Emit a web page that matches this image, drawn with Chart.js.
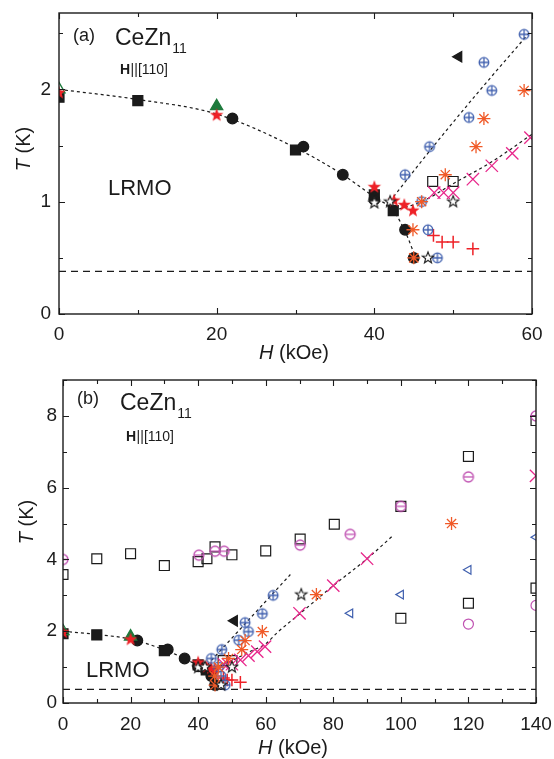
<!DOCTYPE html>
<html>
<head>
<meta charset="utf-8">
<script src="https://cdn.jsdelivr.net/npm/chart.js@4/dist/chart.umd.min.js"></script>
<style>
  html, body { margin: 0; padding: 0; background: #fff; }
  #wrap { position: relative; width: 554px; height: 759px; }
  .panel { position: absolute; left: 0; }
</style>
</head>
<body>
<div id="wrap">
  <div class="panel" style="top:0"><canvas id="chartA" width="554" height="370"></canvas></div>
  <div class="panel" style="top:370px"><canvas id="chartB" width="554" height="389"></canvas></div>
</div>
<script>
// ---- CeZn11, H || [110]: transition temperatures T (K) versus field H (kOe) ----

// filled black squares
const sqFillH = [0, 10, 30, 40, 42.4];
const sqFillT = [1.93, 1.90, 1.46, 1.06, 0.92];
// filled black circles
const cirFillH = [22, 31, 36, 40, 43.9, 45];
const cirFillT = [1.74, 1.49, 1.24, 1.02, 0.75, 0.5];
// green triangles (filled / open)
const triFillH = [20];
const triFillT = [1.85];
const triOpenH = [0];
const triOpenT = [2.0];
// red filled stars
const starFillH = [0, 20, 40, 42.5, 43.8, 44.9];
const starFillT = [1.97, 1.77, 1.13, 1.01, 0.97, 0.92];
// open stars
const starOpenH = [40, 42, 50, 46.8];
const starOpenT = [0.99, 1.0, 1.0, 0.5];
// blue circled plus
const oplusH = [43.9, 47, 52, 54.9, 53.9, 59, 46, 46.8, 48];
const oplusT = [1.24, 1.49, 1.75, 1.99, 2.24, 2.49, 1.0, 0.75, 0.5];
// orange asterisks
const asterH = [45, 44.9, 46, 49, 52.9, 53.9, 59];
const asterT = [0.5, 0.75, 1.0, 1.24, 1.49, 1.74, 1.99];
// pink crosses
const crossH = [47.6, 48.8, 50, 52.5, 54.9, 57.5, 59.8];
const crossT = [1.08, 1.08, 1.08, 1.2, 1.32, 1.43, 1.57];
// open squares near the low-field boundary
const sqOpenH = [47.4, 50];
const sqOpenT = [1.18, 1.18];
// red plus signs
const plusH = [47.5, 48.6, 50, 52.5];
const plusT = [0.70, 0.64, 0.64, 0.58];
// black left-pointing triangle
const triLeftH = [50.7];
const triLeftT = [2.29];

// high-field points (wide field range)
const sqOpenHiH = [0, 10, 20, 30, 40, 42.6, 45, 50, 60, 70.2, 80.3, 100, 120, 140, 100, 120, 140];
const sqOpenHiT = [3.58, 4.02, 4.16, 3.83, 3.94, 4.02, 4.35, 4.13, 4.24, 4.57, 4.98, 5.48, 6.87, 7.87, 2.36, 2.78, 3.2];
const ominusH = [0, 40.2, 45, 47.7, 70.2, 85, 100, 120, 140];
const ominusT = [4.0, 4.12, 4.23, 4.23, 4.4, 4.7, 5.48, 6.30, 8.0];
const circOpenH = [120, 140];
const circOpenT = [2.2, 2.72];
const triLeftOpenH = [85, 100, 120, 140];
const triLeftOpenT = [2.5, 3.02, 3.71, 4.62];
const oplusHiH = [62.2];
const oplusHiT = [3.0];
const asterHiH = [75, 115];
const asterHiT = [3.02, 5.0];
const crossHiH = [70, 80, 90, 140];
const crossHiT = [2.5, 3.27, 4.02, 6.33];
const starOpenHiH = [70.5];
const starOpenHiT = [3.02];

// dotted guide lines
const guideAH = [0, 10, 20, 30, 36, 40, 42.4, 44, 45.4];
const guideAT = [2.0, 1.91, 1.78, 1.48, 1.24, 1.04, 0.92, 0.72, 0.47];
const guideBaH = [41.5, 47, 53, 59.6];
const guideBaT = [0.96, 1.45, 1.96, 2.5];
const guideBbH = [41.5, 67.3];
const guideBbT = [0.94, 3.58];
const guideCaH = [42.4, 46, 50, 55, 60];
const guideCaT = [0.92, 1.0, 1.16, 1.36, 1.6];
const guideCbH = [44, 50, 55, 60, 63.4, 70, 80, 90, 97.5];
const guideCbT = [0.95, 1.18, 1.42, 1.65, 1.96, 2.48, 3.27, 4.02, 4.65];
// lowest measured temperature
const floorT = [0.38, 0.38];
const floorHa = [0, 60];
const floorHb = [0, 140];

// axis ranges
const rangeA = { hMax: 60, tMax: 2.68, hStep: 10, hLabel: 20, tStep: 0.5, tLabel: 1 };
const rangeB = { hMax: 140, tMax: 9, hStep: 10, hLabel: 20, tStep: 1, tLabel: 2 };

const FONT = "'Liberation Sans', Arial, sans-serif";
const C = {
  ink: '#1b1b1b',
  blue: '#3f5fae',
  orange: '#f05a28',
  pink: '#e8278b',
  red: '#ee2127',
  green: '#1d7a3c',
  orchid: '#c052b2'
};

// ---- marker images ----
function canvasMarker(size, paint) {
  const c = document.createElement('canvas');
  c.width = size; c.height = size;
  const g = c.getContext('2d');
  g.translate(size / 2, size / 2);
  paint(g);
  return c;
}
function starPath(g, R, r) {
  g.beginPath();
  for (let i = 0; i < 10; i++) {
    const rad = i % 2 ? r : R;
    const a = -Math.PI / 2 + i * Math.PI / 5;
    const px = Math.cos(a) * rad, py = Math.sin(a) * rad;
    if (i) g.lineTo(px, py); else g.moveTo(px, py);
  }
  g.closePath();
}
const starFillImg = canvasMarker(18, g => { starPath(g, 7, 2.9); g.fillStyle = C.red; g.fill(); });
const starOpenImg = canvasMarker(16, g => {
  starPath(g, 6, 2.5); g.fillStyle = '#fff'; g.fill();
  g.strokeStyle = C.ink; g.lineWidth = 1.1; g.stroke();
});
const oplusImg = canvasMarker(16, g => {
  const r = 4.8;
  g.strokeStyle = C.blue; g.lineWidth = 1.3;
  g.beginPath(); g.arc(0, 0, r, 0, Math.PI * 2); g.stroke();
  g.beginPath(); g.moveTo(-r, 0); g.lineTo(r, 0); g.moveTo(0, -r); g.lineTo(0, r); g.stroke();
});
const ominusImg = canvasMarker(16, g => {
  const r = 5;
  g.strokeStyle = C.orchid; g.lineWidth = 1.3;
  g.beginPath(); g.arc(0, 0, r, 0, Math.PI * 2); g.stroke();
  g.beginPath(); g.moveTo(-r, 0); g.lineTo(r, 0); g.stroke();
});

function pts(h, t) { return h.map((v, i) => ({ x: v, y: t[i] })); }
function marks(h, t, style) {
  return Object.assign({ data: pts(h, t), showLine: false, clip: 0, pointBorderWidth: 1.3 }, style);
}
function guide(h, t, dash, mono) {
  return {
    data: pts(h, t), showLine: true, pointRadius: 0, borderColor: C.ink, borderWidth: 1.2,
    borderDash: dash, cubicInterpolationMode: mono ? 'monotone' : 'default', tension: 0, clip: 0
  };
}

const S = {
  starOpen: { pointStyle: starOpenImg, pointRadius: 5 },
  oplus: { pointStyle: oplusImg, pointRadius: 5 },
  ominus: { pointStyle: ominusImg, pointRadius: 5 },
  aster: { pointStyle: 'star', pointRadius: 6.5, borderColor: C.orange },
  cross: { pointStyle: 'crossRot', pointRadius: 8.7, borderColor: C.pink },
  plus: { pointStyle: 'cross', pointRadius: 6.3, borderColor: C.red, pointBorderWidth: 1.5 },
  sqOpen: { pointStyle: 'rect', pointRadius: 7, borderColor: C.ink, backgroundColor: 'rgba(0,0,0,0)', pointBorderWidth: 1.2 },
  starFill: { pointStyle: starFillImg, pointRadius: 5 },
  triFill: { pointStyle: 'triangle', pointRadius: 7, borderColor: C.green, backgroundColor: C.green },
  triOpen: { pointStyle: 'triangle', pointRadius: 7, borderColor: C.green, backgroundColor: 'rgba(0,0,0,0)' },
  triLeft: { pointStyle: 'triangle', pointRotation: -90, pointRadius: 6, borderColor: C.ink, backgroundColor: C.ink },
  triLeftOpen: { pointStyle: 'triangle', pointRotation: -90, pointRadius: 5, borderColor: C.blue, backgroundColor: 'rgba(0,0,0,0)', pointBorderWidth: 1.2 },
  cirFill: { pointStyle: 'circle', pointRadius: 5.3, borderColor: C.ink, backgroundColor: C.ink },
  cirOpen: { pointStyle: 'circle', pointRadius: 5, borderColor: C.orchid, backgroundColor: 'rgba(0,0,0,0)', pointBorderWidth: 1.2 },
  sqFill: { pointStyle: 'rect', pointRadius: 7, borderColor: C.ink, backgroundColor: C.ink }
};

// ---- frame with inward ticks on all four sides ----
const framePlugin = {
  id: 'frame',
  afterDatasetsDraw(chart, args, o) {
    const { ctx, chartArea: a, scales: { x, y } } = chart;
    ctx.save();
    ctx.strokeStyle = C.ink;
    ctx.lineWidth = 1.4;
    ctx.strokeRect(a.left, a.top, a.right - a.left, a.bottom - a.top);
    ctx.lineWidth = 1.1;
    ctx.beginPath();
    x.ticks.forEach(t => {
      const px = Math.round(x.getPixelForValue(t.value)) + 0.5;
      const len = Math.abs(t.value % o.hLabel) < 1e-6 ? 6 : 4;
      ctx.moveTo(px, a.bottom); ctx.lineTo(px, a.bottom - len);
      ctx.moveTo(px, a.top); ctx.lineTo(px, a.top + len);
    });
    y.ticks.forEach(t => {
      const py = Math.round(y.getPixelForValue(t.value)) + 0.5;
      const len = Math.abs(t.value % o.tLabel) < 1e-6 ? 6 : 4;
      ctx.moveTo(a.left, py); ctx.lineTo(a.left + len, py);
      ctx.moveTo(a.right, py); ctx.lineTo(a.right - len, py);
    });
    ctx.stroke();
    ctx.restore();
  }
};

function mixedText(ctx, parts, size, cx, cy, rot) {
  ctx.save();
  ctx.translate(cx, cy);
  ctx.rotate(rot);
  ctx.textBaseline = 'middle';
  ctx.textAlign = 'left';
  let total = 0;
  const widths = parts.map(([s, st]) => { ctx.font = `${st}${size}px ${FONT}`; const w = ctx.measureText(s).width; total += w; return w; });
  let px = -total / 2;
  parts.forEach(([s, st], i) => { ctx.font = `${st}${size}px ${FONT}`; ctx.fillText(s, px, 0); px += widths[i]; });
  ctx.restore();
}

// ---- panel labels and axis titles ----
const notesPlugin = {
  id: 'notes',
  afterDraw(chart, args, o) {
    const ctx = chart.ctx;
    ctx.save();
    ctx.fillStyle = C.ink;
    ctx.textAlign = 'left';
    ctx.textBaseline = 'alphabetic';
    ctx.font = `18px ${FONT}`;
    ctx.fillText(o.tag, o.tagX, o.tagY);
    ctx.font = `23px ${FONT}`;
    ctx.fillText('CeZn', o.nameX, o.nameY);
    const wn = ctx.measureText('CeZn').width;
    ctx.font = `14px ${FONT}`;
    ctx.fillText('11', o.nameX + wn + 1, o.nameY + 7.5);
    ctx.font = `bold 14px ${FONT}`;
    ctx.fillText('H', o.dirX, o.dirY);
    const wh = ctx.measureText('H').width;
    ctx.font = `14px ${FONT}`;
    ctx.fillText('||[110]', o.dirX + wh + 0.5, o.dirY);
    ctx.font = `22px ${FONT}`;
    ctx.fillText('LRMO', o.phaseX, o.phaseY);
    mixedText(ctx, [['T', 'italic '], [' (K)', '']], 20, o.yTitleX, o.yTitleY, -Math.PI / 2);
    mixedText(ctx, [['H', 'italic '], [' (kOe)', '']], 20, o.xTitleX, o.xTitleY, 0);
    ctx.restore();
  }
};

function makeChart(id, datasets, range, pad, axisW, axisH, notes) {
  return new Chart(document.getElementById(id), {
    type: 'scatter',
    data: { datasets },
    plugins: [framePlugin, notesPlugin],
    options: {
      responsive: false,
      animation: false,
      events: [],
      layout: { padding: pad },
      plugins: {
        legend: { display: false },
        tooltip: { enabled: false },
        frame: range,
        notes
      },
      scales: {
        x: {
          type: 'linear', min: 0, max: range.hMax,
          border: { display: false },
          grid: { display: false, drawTicks: false },
          afterFit: s => { s.height = axisH; s.paddingLeft = 0; s.paddingRight = 0; },
          ticks: {
            stepSize: range.hStep, includeBounds: false, autoSkip: false, maxRotation: 0,
            padding: notes.xPad, color: C.ink, font: { family: FONT, size: 19 },
            callback: v => (Math.abs(v % range.hLabel) < 1e-6 ? String(v) : '')
          }
        },
        y: {
          type: 'linear', min: 0, max: range.tMax,
          border: { display: false },
          grid: { display: false, drawTicks: false },
          afterFit: s => { s.width = axisW; s.paddingTop = 0; s.paddingBottom = 0; },
          ticks: {
            stepSize: range.tStep, includeBounds: false, autoSkip: false,
            padding: notes.yPad, color: C.ink, font: { family: FONT, size: 19 },
            callback: v => (Math.abs(v % range.tLabel) < 1e-6 ? String(Math.round(v)) : '')
          }
        }
      }
    }
  });
}

// ---- panel (a) ----
const dsA = [
  marks(starOpenH, starOpenT, S.starOpen),
  marks(asterH, asterT, S.aster),
  marks(oplusH, oplusT, S.oplus),
  marks(crossH, crossT, S.cross),
  marks(plusH, plusT, S.plus),
  marks(sqOpenH, sqOpenT, S.sqOpen),
  marks(starFillH, starFillT, S.starFill),
  marks(triFillH, triFillT, S.triFill),
  marks(triOpenH, triOpenT, S.triOpen),
  marks(triLeftH, triLeftT, S.triLeft),
  marks(cirFillH, cirFillT, S.cirFill),
  marks(sqFillH, sqFillT, S.sqFill),
  guide(guideAH, guideAT, [3, 3], true),
  guide(guideBaH, guideBaT, [3, 3], true),
  guide(guideCaH, guideCaT, [3, 3], true),
  guide(floorHa, floorT, [7, 5], false)
];
makeChart('chartA', dsA, rangeA, { left: 0, top: 13, right: 22, bottom: 0 }, 59, 56, {
  tag: '(a)', tagX: 73, tagY: 41,
  nameX: 115, nameY: 45,
  dirX: 120, dirY: 74,
  phaseX: 108, phaseY: 195,
  yTitleX: 24, yTitleY: 149,
  xTitleX: 294, xTitleY: 353,
  yPad: 8, xPad: 9
});

// ---- panel (b) ----
const dsB = [
  marks(starOpenH.concat(starOpenHiH), starOpenT.concat(starOpenHiT), S.starOpen),
  marks(asterH.concat(asterHiH), asterT.concat(asterHiT), S.aster),
  marks(oplusH.concat(oplusHiH), oplusT.concat(oplusHiT), S.oplus),
  marks(crossH.concat(crossHiH), crossT.concat(crossHiT), S.cross),
  marks(plusH, plusT, S.plus),
  marks(ominusH, ominusT, S.ominus),
  marks(circOpenH, circOpenT, S.cirOpen),
  marks(triLeftOpenH, triLeftOpenT, S.triLeftOpen),
  marks(sqOpenH.concat(sqOpenHiH), sqOpenT.concat(sqOpenHiT), S.sqOpen),
  marks(starFillH, starFillT, S.starFill),
  marks(triFillH, triFillT, S.triFill),
  marks(triOpenH, triOpenT, S.triOpen),
  marks(triLeftH, triLeftT, S.triLeft),
  marks(cirFillH, cirFillT, S.cirFill),
  marks(sqFillH, sqFillT, S.sqFill),
  guide(guideAH, guideAT, [3, 3], true),
  guide(guideBbH, guideBbT, [3, 3], true),
  guide(guideCbH, guideCbT, [3, 3], true),
  guide(floorHb, floorT, [7, 5], false)
];
makeChart('chartB', dsB, rangeB, { left: 0, top: 5, right: 18, bottom: 0 }, 63, 56, {
  tag: '(b)', tagX: 77, tagY: 34,
  nameX: 120, nameY: 40,
  dirX: 126, dirY: 71,
  phaseX: 86, phaseY: 307,
  yTitleX: 27, yTitleY: 152,
  xTitleX: 293, xTitleY: 378,
  yPad: 6, xPad: 10
});
</script>
</body>
</html>
